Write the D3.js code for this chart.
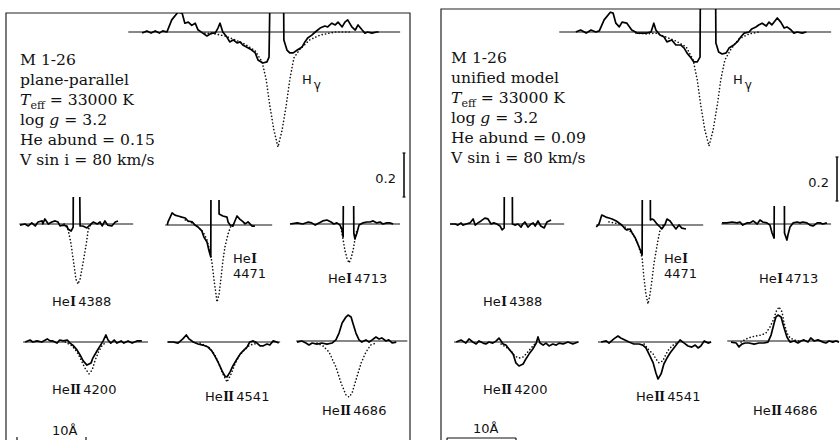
<!DOCTYPE html>
<html>
<head>
<meta charset="utf-8">
<script src="https://cdn.jsdelivr.net/npm/d3@7/dist/d3.min.js"></script>
<style>
  html, body { margin: 0; padding: 0; background: #fff; }
  svg { display: block; }
  .serif { font-family: 'DejaVu Serif', serif; font-size: 15.6px; fill: #111; }
  .lab { font-family: 'DejaVu Sans', sans-serif; font-size: 13px; fill: #111; }
  .roman { font-family: 'DejaVu Serif', serif; font-weight: bold; font-size: 12px; }
</style>
</head>
<body>
<script>
// M 1-26 : observed (solid) vs model (dotted) line profiles, two model grids
// values are [delta lambda (A) from line centre, normalised flux]
// nebular emission cores run off the top of each box (clipped), as in the original

const panelNames = ['plane-parallel', 'unified model'];
const heAbund = ['0.15', '0.09'];
const teff = 33000, logg = 3.2, vsini = 80;
const lineNames = ['Hγ', 'HeI 4388', 'HeI 4471', 'HeI 4713', 'HeII 4200', 'HeII 4541', 'HeII 4686'];

// ---- plane-parallel panel ----
const ppHg = [[-19.7,0.995],[-19.0,1.005],[-18.4,0.995],[-17.8,1.005],[-17.2,0.995],[-16.7,1.005],[-16.1,1.0],
  [-15.4,1.055],[-14.5,1.09],[-13.9,1.086],[-13.5,1.04],[-13.0,1.045],[-12.5,1.03],[-12.0,1.04],[-11.6,1.01],
  [-10.9,0.995],[-10.3,0.982],[-9.6,0.995],[-9.1,0.995],[-8.7,1.018],[-8.4,1.04],[-8.0,1.0],[-7.4,0.977],
  [-7.0,0.955],[-6.5,0.964],[-5.9,0.95],[-5.5,0.955],[-5.1,0.941],[-4.3,0.927],[-3.8,0.918],[-3.3,0.905],
  [-2.9,0.873],[-2.2,0.859],[-1.6,0.864],[-1.3,0.886],[-1.0,1.5],[0.75,1.5],[0.85,0.964],[1.3,0.918],
  [1.7,0.905],[2.2,0.905],[2.8,0.918],[3.5,0.932],[3.9,0.955],[4.3,0.973],[4.9,0.986],[5.4,1.0],[6.1,1.018],
  [6.8,1.027],[7.2,1.023],[7.8,1.04],[8.3,1.032],[8.7,1.045],[9.3,1.023],[9.7,1.045],[10.1,1.055],[10.7,1.023],
  [11.2,1.009],[11.6,1.032],[12.2,1.009],[12.6,0.995],[13.0,1.0],[13.6,0.995],[14.3,1.0],[14.6,1.0]];
const ppHgModel = [[-10.6,0.995],[-9.1,0.991],[-7.7,0.982],[-6.2,0.964],[-4.8,0.945],[-3.3,0.914],[-2.3,0.864],
  [-1.7,0.782],[-1.2,0.668],[-0.6,0.555],[0,0.477],[0.6,0.555],[1.2,0.668],[1.7,0.782],[2.3,0.882],[3.2,0.923],
  [4.6,0.964],[6.1,0.986],[8.3,1.0],[10.4,1.0]];
const pp4388 = [[-8.4,0.995],[-7.7,1.0],[-7.2,0.991],[-6.7,1.005],[-6.2,0.991],[-5.8,1.009],[-5.2,1.014],[-5.1,1.0],
  [-4.8,1.023],[-4.3,1.0],[-3.8,1.009],[-3.3,1.014],[-2.9,1.009],[-2.6,0.991],[-2.2,0.995],[-1.6,0.991],
  [-1.45,0.977],[-1.0,0.968],[-0.7,0.986],[-0.65,1.5],[0.15,1.5],[0.3,0.991],[0.7,0.991],[1.3,0.982],
  [1.6,0.991],[2.2,1.009],[2.8,1.0],[3.2,1.009],[3.5,0.991],[3.9,1.014],[4.3,0.995],[4.9,0.991],[5.4,1.009],[5.8,1.014]];
const pp4388Model = [[-2.0,1.0],[-1.45,0.977],[-1.0,0.909],[-0.6,0.818],[-0.3,0.75],[0,0.727],[0.3,0.75],
  [0.7,0.818],[1.2,0.909],[1.45,0.968],[1.7,0.991],[2.2,1.0]];
const pp4471 = [[-7.2,1.0],[-7.1,1.014],[-6.5,1.055],[-6.1,1.045],[-5.65,1.041],[-5.1,1.036],[-4.6,1.032],
  [-4.2,1.018],[-3.6,1.014],[-3.2,1.0],[-2.75,0.991],[-2.2,0.973],[-1.9,0.945],[-1.45,0.923],[-1.15,0.882],
  [-0.9,0.855],[-0.85,1.5],[0.25,1.5],[0.3,1.05],[0.85,1.041],[1.45,1.036],[1.6,1.014],[1.9,1.0],
  [2.3,0.995],[2.6,1.018],[2.9,1.041],[3.3,1.027],[3.8,1.014],[4.05,1.005],[4.5,1.014],[5.1,0.995],[5.5,0.995]];
const pp4471Model = [[-4.6,1.023],[-3.6,1.009],[-2.75,0.991],[-2.0,0.968],[-1.45,0.932],[-1.0,0.877],
  [-0.7,0.823],[-0.45,0.755],[-0.15,0.686],[0,0.65],[0.3,0.686],[0.6,0.764],[0.85,0.836],[1.15,0.9],
  [1.6,0.959],[2.0,0.995],[2.5,1.005]];
const pp4713 = [[-8.55,1.0],[-7.5,1.005],[-6.7,1.0],[-5.9,1.009],[-5.4,1.005],[-4.9,0.995],[-4.35,1.005],
  [-3.8,1.014],[-3.2,1.018],[-2.6,1.009],[-2.2,1.0],[-1.75,1.005],[-1.3,0.995],[-1.0,0.973],[-0.85,0.941],
  [-0.75,1.5],[0.6,1.5],[0.7,0.959],[0.85,0.932],[1.15,0.959],[1.45,0.995],[2.0,1.005],[2.6,1.009],
  [3.05,1.009],[3.5,1.014],[4.05,1.005],[4.5,1.009],[4.9,1.0],[5.5,1.005],[5.9,1.005],[6.4,1.0]];
const pp4713Model = [[-1.15,0.982],[-0.85,0.927],[-0.6,0.882],[-0.3,0.845],[0,0.823],[0.3,0.845],[0.6,0.882],
  [0.85,0.927],[1.15,0.973]];
const pp4200 = [[-9.1,1.0],[-8.4,1.009],[-8.0,1.0],[-7.4,1.005],[-6.7,1.0],[-5.9,1.014],[-5.5,1.005],[-5.1,1.005],
  [-4.5,0.995],[-4.1,1.009],[-3.6,1.005],[-3.0,1.009],[-2.6,0.995],[-2.2,0.986],[-1.6,0.964],[-1.15,0.941],
  [-0.7,0.914],[-0.15,0.895],[0.45,0.905],[0.7,0.927],[1.3,0.959],[1.75,0.982],[2.2,1.005],[2.6,1.032],
  [2.9,1.009],[3.3,0.995],[3.8,1.009],[4.2,0.995],[4.8,1.005],[5.2,0.995],[5.8,1.005],[6.4,0.995],[7.1,1.005],[7.8,1.005]];
const pp4200Model = [[-3.3,1.0],[-2.3,0.982],[-1.6,0.955],[-1.0,0.918],[-0.45,0.882],[0.15,0.855],[0.6,0.873],
  [1.0,0.914],[1.45,0.95],[2.0,0.982],[2.6,1.0]];
const pp4541 = [[-8.55,1.0],[-7.8,1.0],[-7.1,0.995],[-6.4,1.014],[-5.9,1.032],[-5.5,1.014],[-4.9,1.0],[-4.2,0.991],
  [-3.5,0.986],[-2.75,0.977],[-2.2,0.959],[-1.75,0.936],[-1.3,0.909],[-0.7,0.868],[-0.3,0.845],[0,0.841],
  [0.45,0.864],[0.85,0.891],[1.45,0.923],[1.9,0.945],[2.3,0.959],[2.9,0.977],[3.3,1.0],[3.8,1.005],[4.35,0.995],
  [4.8,0.982],[5.2,0.982],[5.8,0.991],[6.2,0.986],[6.7,1.005],[7.2,1.0],[7.5,0.995]];
const pp4541Model = [[-3.9,0.995],[-2.5,0.973],[-1.75,0.941],[-1.15,0.9],[-0.6,0.855],[0,0.818],[0.6,0.855],
  [1.15,0.9],[1.75,0.936],[2.5,0.964],[3.3,0.986],[4.5,0.995]];
const pp4686 = [[-7.4,0.995],[-6.7,1.0],[-6.1,0.991],[-5.65,0.982],[-5.2,0.991],[-4.5,0.986],[-3.8,0.991],
  [-3.05,0.986],[-2.3,0.991],[-1.75,1.005],[-1.3,1.036],[-0.85,1.082],[-0.3,1.109],[0,1.118],[0.45,1.109],
  [0.7,1.082],[1.15,1.036],[1.6,1.005],[2.0,0.995],[2.6,1.005],[3.05,0.995],[3.5,1.005],[4.05,1.018],
  [4.5,1.009],[4.9,1.014],[5.5,1.0],[5.9,1.005],[6.4,0.991],[7.0,0.995]];
const pp4686Model = [[-4.5,0.991],[-3.6,0.977],[-2.75,0.95],[-1.75,0.882],[-1.0,0.809],[-0.3,0.755],[0.15,0.745],
  [0.6,0.764],[1.15,0.823],[1.9,0.9],[2.6,0.95],[3.3,0.982],[4.05,0.991]];

// ---- unified model panel ----
const ufHg = [[-19.3,1.0],[-18.6,1.009],[-17.8,0.995],[-17.1,1.009],[-16.4,1.0],[-15.9,1.005],[-15.2,1.055],
  [-14.3,1.09],[-13.9,1.086],[-13.5,1.04],[-13.0,1.023],[-12.6,1.045],[-11.9,1.04],[-11.2,1.009],[-10.4,0.995],
  [-9.9,0.995],[-9.1,0.995],[-8.4,1.0],[-8.0,1.04],[-7.7,1.009],[-7.1,0.986],[-6.5,0.977],[-6.1,0.955],
  [-5.4,0.964],[-4.8,0.941],[-4.1,0.941],[-3.6,0.927],[-3.2,0.905],[-2.6,0.882],[-2.2,0.864],[-1.7,0.864],
  [-1.3,0.886],[-1.2,1.5],[0.9,1.5],[1.0,0.95],[1.4,0.909],[1.9,0.9],[2.5,0.905],[2.9,0.927],[3.6,0.941],
  [4.1,0.955],[4.6,0.977],[5.1,0.995],[5.8,1.0],[6.2,1.014],[6.8,1.023],[7.2,1.032],[7.7,1.04],[8.3,1.027],
  [8.7,1.045],[9.1,1.032],[9.9,1.064],[10.4,1.045],[10.9,1.018],[11.3,1.023],[11.9,1.009],[12.3,0.995],
  [12.8,1.0],[13.5,0.995],[14.1,1.0]];
const ufHgModel = [[-10.6,0.995],[-9.1,0.991],[-7.7,0.995],[-6.2,0.977],[-4.8,0.959],[-3.3,0.932],[-2.3,0.873],
  [-1.7,0.782],[-1.2,0.668],[-0.6,0.555],[0,0.482],[0.6,0.555],[1.2,0.668],[1.7,0.782],[2.3,0.873],[3.2,0.923],
  [4.3,0.968],[5.8,0.991],[7.2,1.0]];
const uf4388 = [[-8.55,1.0],[-7.8,1.0],[-7.4,0.995],[-6.95,1.005],[-6.7,0.995],[-6.2,1.0],[-5.65,1.005],
  [-5.2,1.023],[-4.9,0.995],[-4.5,1.005],[-4.05,1.014],[-3.5,1.027],[-3.05,1.023],[-2.6,1.0],[-2.2,1.005],
  [-1.75,1.0],[-1.3,0.991],[-1.0,0.973],[-0.7,0.982],[-0.65,1.5],[0.45,1.5],[0.5,1.0],[0.85,0.995],
  [1.3,1.0],[1.75,0.986],[2.0,1.0],[2.3,1.009],[2.75,0.986],[3.2,1.0],[3.5,1.005],[3.8,0.991],[4.2,1.014],
  [4.6,0.991],[5.1,0.982],[5.5,1.009],[6.1,1.018]];
const uf4388Model = [];
const uf4471 = [[-7.5,0.991],[-7.1,1.005],[-6.7,1.045],[-6.1,1.036],[-5.65,1.032],[-5.2,1.027],[-4.6,1.018],
  [-4.2,1.009],[-3.8,1.0],[-3.3,0.982],[-3.05,0.977],[-2.6,0.982],[-2.3,0.964],[-1.9,0.945],[-1.6,0.923],
  [-1.3,0.9],[-1.0,0.877],[-0.85,0.864],[-0.8,1.5],[0.3,1.5],[0.35,1.023],[0.6,1.027],[0.85,1.023],
  [1.3,1.005],[1.75,0.991],[2.0,0.982],[2.5,1.005],[2.75,1.027],[3.2,1.018],[3.6,1.0],[4.05,0.982],
  [4.5,1.0],[4.9,0.986],[5.5,0.982]];
const uf4471Model = [[-5.65,1.014],[-4.2,1.005],[-3.05,0.986],[-2.2,0.959],[-1.45,0.914],[-0.85,0.85],
  [-0.6,0.764],[-0.3,0.686],[0,0.641],[0.3,0.686],[0.6,0.755],[0.85,0.823],[1.15,0.877],[1.45,0.932],
  [1.75,0.977],[2.2,1.0]];
const uf4713 = [[-8.4,1.005],[-7.7,1.005],[-6.95,1.009],[-6.2,1.005],[-5.8,1.009],[-5.4,0.995],[-4.8,1.005],
  [-4.35,1.005],[-3.9,1.014],[-3.3,1.0],[-2.9,1.018],[-2.5,1.009],[-1.9,1.005],[-1.45,0.995],[-1.15,0.959],
  [-0.85,0.936],[-0.8,1.5],[0.6,1.5],[0.65,0.959],[1.0,0.927],[1.15,0.95],[1.45,0.986],[1.9,1.005],
  [2.5,1.009],[2.9,1.005],[3.3,1.009],[3.9,1.005],[4.35,0.995],[4.8,0.991],[5.4,1.005],[5.8,1.005],
  [6.2,1.0],[6.8,1.005]];
const uf4713Model = [];
const uf4200 = [[-9.1,1.0],[-8.4,1.009],[-7.7,0.995],[-7.25,1.014],[-6.7,1.0],[-6.2,0.991],[-5.8,1.005],
  [-5.2,0.995],[-4.8,0.991],[-4.35,1.0],[-3.8,0.995],[-3.3,1.005],[-2.9,1.018],[-2.3,0.991],[-1.9,0.986],
  [-1.45,0.968],[-0.85,0.945],[-0.45,0.905],[0,0.891],[0.6,0.9],[1.0,0.923],[1.45,0.945],[2.0,0.968],
  [2.5,0.995],[2.75,1.023],[3.05,0.995],[3.5,0.986],[3.9,0.995],[4.35,0.982],[4.9,0.991],[5.4,0.986],
  [5.8,0.995],[6.4,0.991],[7.1,1.0],[7.8,0.991],[8.55,1.0]];
const uf4200Model = [[-2.6,0.991],[-1.9,0.977],[-1.15,0.959],[-0.6,0.936],[0,0.927],[0.6,0.932],[1.15,0.95],
  [1.75,0.973],[2.3,0.991]];
const uf4541 = [[-8.25,1.0],[-7.5,1.005],[-7.1,0.995],[-6.4,1.014],[-5.8,1.027],[-5.4,1.018],[-4.8,1.009],
  [-4.2,1.0],[-3.5,0.991],[-2.75,0.991],[-2.2,0.986],[-1.75,0.973],[-1.3,0.945],[-0.7,0.905],[-0.3,0.859],
  [0,0.832],[0.45,0.855],[0.85,0.9],[1.3,0.927],[1.75,0.95],[2.3,0.973],[2.75,0.991],[3.2,1.009],[3.8,0.995],
  [4.35,0.982],[4.9,0.977],[5.4,0.986],[5.8,0.973],[6.2,0.982],[6.7,1.005],[7.25,0.995],[7.7,1.0]];
const uf4541Model = [[-2.0,0.991],[-1.45,0.968],[-0.7,0.945],[-0.3,0.923],[0.15,0.905],[0.7,0.914],[1.15,0.945],
  [1.6,0.968],[2.2,0.986],[2.6,0.995]];
const uf4686 = [[-6.95,0.995],[-6.2,0.991],[-5.8,0.973],[-5.4,0.986],[-4.9,0.991],[-4.35,0.991],[-3.6,0.986],
  [-2.9,0.991],[-2.2,0.991],[-1.6,0.995],[-1.15,1.027],[-0.7,1.082],[-0.45,1.109],[-0.15,1.118],[0.3,1.109],
  [0.7,1.064],[1.15,1.018],[1.6,0.995],[2.2,1.0],[2.75,0.991],[3.2,1.0],[3.6,1.005],[4.2,0.995],[4.6,1.014],
  [5.1,1.0],[5.65,1.005],[6.4,0.995],[6.8,0.991],[7.25,1.0],[7.8,0.995],[8.25,1.0],[8.7,0.995]];
const uf4686Model = [[-5.5,0.995],[-4.8,1.009],[-4.05,1.018],[-3.3,1.023],[-2.6,1.027],[-1.9,1.036],[-1.3,1.064],
  [-0.7,1.105],[-0.45,1.132],[0,1.155],[0.45,1.132],[0.7,1.086],[1.15,1.036],[1.6,1.014],[2.2,1.005],[2.9,1.0]];

const observed = [
  [ppHg, pp4388, pp4471, pp4713, pp4200, pp4541, pp4686],
  [ufHg, uf4388, uf4471, uf4713, uf4200, uf4541, uf4686],
];
const models = [
  [ppHgModel, pp4388Model, pp4471Model, pp4713Model, pp4200Model, pp4541Model, pp4686Model],
  [ufHgModel, uf4388Model, uf4471Model, uf4713Model, uf4200Model, uf4541Model, uf4686Model],
];
// continuum segment drawn under each profile (A from centre)
const continuumRange = [[-21.7, 17.7], [-8.5, 8.0], [-7.5, 8.0], [-8.5, 7.4], [-9.4, 8.7], [-8.7, 7.7], [-7.5, 8.6]];

// ---- layout ----
const W = 840, H = 440;
const x = d3.scaleLinear().domain([0, 10]).range([0, 69]);      // 10 A = 69 px
const y = d3.scaleLinear().domain([1, 0.8]).range([0, 44]);     // 0.2 in flux = 44 px

// where each line sits inside a panel (centre, continuum level, top of the cut-off emission)
const slots = [
  { cx: 278, cy: 32, cut: null }, { cx: 78, cy: 224, cut: 197 }, { cx: 217, cy: 225, cut: 200 },
  { cx: 349, cy: 224, cut: 206 }, { cx: 88, cy: 342, cut: null }, { cx: 227, cy: 342, cut: null },
  { cx: 348, cy: 341, cut: null },
];
const frames = [
  { dx: 0, left: 6, top: 13, right: 410, textX: 20, barX: 404, barY: 153, scaleX: 17, scaleY: 441, tickUp: true, tenX: 52 },
  { dx: 431, left: 441, top: 9, right: 900, textX: 451, barX: 837, barY: 157, scaleX: 447, scaleY: 438, tickUp: false, tenX: 473 },
];

const svg = d3.select('body').append('svg')
  .attr('width', W)
  .attr('height', H);
const defs = svg.append('defs');

const profile = d3.line().x(d => x(d[0])).y(d => y(d[1]));

const addLabel = (sel, px, py, name, num) => {
  const t = sel.append('text').attr('x', px).attr('y', py);
  t.append('tspan').text('He');
  t.append('tspan').attr('class', 'roman').attr('dx', 0.5).attr('letter-spacing', -0.6).text(name);
  if (num) t.append('tspan').attr('dx', 3).text(num);
  return t;
};

frames.forEach((f, p) => {
  const clipId = 'clip' + p;
  defs.append('clipPath').attr('id', clipId)
    .append('rect')
    .attr('x', f.left).attr('y', f.top)
    .attr('width', f.right - f.left).attr('height', H + 20);

  // frame
  svg.append('path')
    .attr('d', `M${f.left},${H + 5}V${f.top}H${f.right}V${H + 5}`)
    .attr('fill', 'none')
    .attr('stroke', '#222')
    .attr('stroke-width', 1.2);

  const g = svg.append('g').attr('clip-path', `url(#${clipId})`);

  slots.forEach((s, i) => {
    let host = g;
    if (s.cut !== null) {
      const cid = `cut${p}-${i}`;
      defs.append('clipPath').attr('id', cid)
        .append('rect')
        .attr('x', s.cx + f.dx - 80).attr('y', s.cut)
        .attr('width', 160).attr('height', 120);
      host = g.append('g').attr('clip-path', `url(#${cid})`);
    }
    const lg = host.append('g').attr('transform', `translate(${s.cx + f.dx},${s.cy})`);
    const r = continuumRange[i];
    lg.append('line')
      .attr('x1', x(r[0])).attr('x2', x(r[1]))
      .attr('y1', y(1)).attr('y2', y(1))
      .attr('stroke', '#111').attr('stroke-width', 1);
    if (models[p][i].length) {
      lg.append('path')
        .datum(models[p][i])
        .attr('d', profile)
        .attr('fill', 'none')
        .attr('stroke', '#111')
        .attr('stroke-width', 1.6)
        .attr('stroke-linecap', 'round')
        .attr('stroke-dasharray', '0.1 3.3');
    }
    lg.append('path')
      .datum(observed[p][i])
      .attr('d', profile)
      .attr('fill', 'none')
      .attr('stroke', '#000')
      .attr('stroke-width', 1.7)
      .attr('stroke-linejoin', 'round');
  });

  // parameter block
  const tx = f.textX;
  const t = svg.append('g').attr('class', 'serif');
  const base = p === 0 ? 65 : 63;
  t.append('text').attr('x', tx).attr('y', base).text('M 1-26');
  t.append('text').attr('x', tx).attr('y', base + 20).text(panelNames[p]);
  const te = t.append('text').attr('x', tx).attr('y', base + 40);
  te.append('tspan').attr('font-style', 'italic').text('T');
  te.append('tspan').attr('font-size', 11).attr('dy', 4).text('eff');
  te.append('tspan').attr('dy', -4).text(` = ${teff} K`);
  const lgT = t.append('text').attr('x', tx).attr('y', base + 60);
  lgT.append('tspan').text('log ');
  lgT.append('tspan').attr('font-style', 'italic').text('g');
  lgT.append('tspan').text(` = ${logg}`);
  t.append('text').attr('x', tx).attr('y', base + 80).text(`He abund = ${heAbund[p]}`);
  t.append('text').attr('x', tx).attr('y', base + 100).text(`V sin i = ${vsini} km/s`);

  // line labels
  const L = svg.append('g').attr('class', 'lab');
  const o = f.dx;
  const hg = L.append('text').attr('x', 302 + o).attr('y', 84);
  hg.append('tspan').text('H');
  hg.append('tspan').attr('dy', 5).attr('dx', 2).attr('font-size', 12).text('γ');
  addLabel(L, 52 + o, 306, 'I', '4388');
  addLabel(L, 233 + o, 263, 'I', null);
  L.append('text').attr('x', 233 + o).attr('y', 278).text('4471');
  addLabel(L, 328 + o, 283, 'I', '4713');
  addLabel(L, 52 + o, 394, 'II', '4200');
  addLabel(L, 205 + o, 401, 'II', '4541');
  addLabel(L, 322 + o, 415, 'II', '4686');

  // 0.2 flux bar
  const by0 = f.barY, by1 = f.barY + (y(0.8) - y(1));
  svg.append('line').attr('x1', f.barX).attr('x2', f.barX).attr('y1', by0).attr('y2', by1)
    .attr('stroke', '#111').attr('stroke-width', 1.6);
  [by0, by1].forEach(v => svg.append('line')
    .attr('x1', f.barX - 1.5).attr('x2', f.barX + 1.5).attr('y1', v).attr('y2', v)
    .attr('stroke', '#111').attr('stroke-width', 1.2));
  svg.append('text').attr('class', 'lab').attr('font-size', 12)
    .attr('x', f.barX - 8).attr('y', (by0 + by1) / 2 + 8)
    .attr('text-anchor', 'end').text('0.2');

  // 10 A bar
  const sx0 = f.scaleX, sx1 = f.scaleX + x(10);
  svg.append('line').attr('x1', sx0).attr('x2', sx1).attr('y1', f.scaleY).attr('y2', f.scaleY)
    .attr('stroke', '#111').attr('stroke-width', 1.2);
  const d = f.tickUp ? -4 : 4;
  [sx0, sx1].forEach(v => svg.append('line')
    .attr('x1', v).attr('x2', v).attr('y1', f.scaleY).attr('y2', f.scaleY + d)
    .attr('stroke', '#111').attr('stroke-width', 1.2));
  svg.append('text').attr('class', 'lab').attr('font-size', 12)
    .attr('x', f.tenX).attr('y', p === 0 ? 435 : 433).text('10Å');
});
</script>
</body>
</html>
